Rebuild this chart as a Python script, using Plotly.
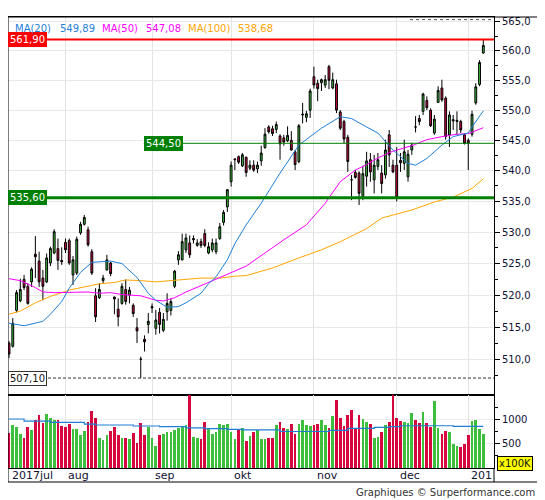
import math
import pandas as pd
import plotly.graph_objects as go

# trading days shown (Euronext, jul 2017 - jan 2018)
days = pd.bdate_range("2017-07-11", "2018-01-08")
days = days.drop(pd.to_datetime(["2017-12-25", "2017-12-26", "2018-01-01"]))
dates = [d.strftime("%Y-%m-%d") for d in days]

opens = [512.5, 512.0, 517.6, 519.1, 522.5, 521.4, 522.1, 526.5, 525.4, 522.7,
         522.1, 525.1, 526.7, 527.4, 525.5, 528.4, 528.7, 523.2, 523.5, 529.9,
         531.3, 530.4, 526.9, 519.9, 519.6, 522.3, 524.0, 525.1, 519.7, 517.8,
         518.7, 520.9, 520.0, 518.4, 514.9, 510.0, 513.1, 515.4, 518.0, 514.8,
         517.3, 514.5, 517.4, 517.6, 521.4, 525.6, 525.6, 527.2, 528.3, 528.8,
         527.9, 528.5, 529.8, 526.7, 527.2, 526.9, 529.0, 531.6, 534.1, 538.2,
         541.8, 542.3, 540.8, 542.2, 540.4, 540.9, 540.3, 541.6, 543.8, 547.2,
         546.9, 546.8, 545.7, 545.4, 544.9, 545.0, 543.1, 541.5, 549.2, 548.8,
         550.0, 555.6, 554.5, 554.6, 554.2, 557.3, 553.7, 554.4, 549.7, 548.1,
         545.5, 538.5, 539.7, 539.6, 535.8, 539.1, 541.8, 538.5, 540.7, 539.6,
         539.3, 545.9, 540.9, 540.9, 541.7, 541.2, 539.0, 543.4, 547.2, 548.6,
         549.8, 551.6, 550.0, 546.2, 551.3, 553.7, 552.0, 545.9, 548.2, 548.1,
         548.1, 545.9, 545.0, 546.0, 551.2, 554.3, 559.6]
highs = [512.8, 516.4, 520.8, 522.6, 523.2, 521.9, 524.4, 529.4, 526.9, 524.0,
         526.6, 527.7, 530.5, 529.0, 527.6, 529.0, 529.0, 526.2, 529.3, 531.7,
         532.8, 530.9, 527.3, 521.1, 521.9, 523.2, 526.4, 525.3, 519.8, 519.5,
         521.9, 522.5, 521.3, 518.7, 516.4, 510.4, 513.7, 517.2, 518.7, 517.7,
         518.0, 517.2, 520.3, 519.5, 524.0, 527.0, 529.8, 529.8, 529.5, 529.5,
         528.9, 529.0, 530.5, 528.4, 529.0, 529.0, 531.5, 533.6, 537.0, 541.5,
         542.0, 542.5, 542.9, 542.3, 541.7, 541.7, 541.5, 544.1, 547.0, 547.5,
         547.4, 548.1, 546.0, 545.9, 547.3, 546.5, 543.4, 547.7, 551.2, 549.9,
         553.6, 557.3, 555.1, 555.3, 555.9, 557.6, 556.3, 555.1, 550.0, 548.4,
         545.9, 539.3, 540.1, 539.9, 540.8, 543.1, 542.9, 542.6, 542.9, 540.9,
         545.1, 546.7, 541.8, 543.9, 542.9, 545.1, 543.4, 544.6, 549.0, 549.2,
         552.9, 552.3, 550.3, 549.2, 554.0, 555.1, 552.3, 549.8, 549.2, 549.8,
         548.4, 546.2, 545.3, 549.9, 554.5, 558.4, 561.9]
lows = [510.2, 511.8, 517.3, 518.9, 520.8, 518.5, 521.3, 522.7, 521.3, 519.2,
        521.9, 524.6, 526.5, 524.0, 524.8, 526.7, 524.8, 521.6, 523.2, 529.6,
        531.1, 527.7, 523.2, 515.8, 519.4, 521.9, 523.9, 523.0, 517.0, 515.1,
        518.5, 518.5, 518.7, 516.6, 512.5, 507.1, 511.2, 514.0, 517.2, 513.8,
        514.0, 514.2, 516.0, 516.8, 521.1, 524.8, 525.5, 526.7, 525.9, 528.2,
        527.7, 527.5, 527.6, 526.5, 526.8, 526.5, 528.8, 531.1, 533.3, 537.4,
        540.1, 541.1, 540.6, 539.0, 540.1, 539.8, 539.6, 540.8, 543.6, 546.1,
        545.7, 546.2, 541.8, 544.1, 544.7, 543.3, 540.1, 541.2, 547.8, 548.0,
        548.7, 553.6, 551.5, 553.2, 553.7, 553.5, 553.5, 549.5, 546.7, 544.5,
        539.8, 535.2, 538.7, 534.4, 535.2, 537.4, 538.2, 536.3, 540.1, 536.3,
        538.7, 540.6, 539.6, 535.0, 539.8, 540.1, 538.2, 542.6, 546.3, 547.5,
        549.2, 550.0, 547.2, 545.9, 551.2, 551.4, 545.1, 543.9, 546.7, 545.9,
        546.2, 544.3, 540.1, 545.6, 550.9, 554.0, 559.5]
closes = [510.8, 515.6, 520.4, 520.9, 521.2, 518.7, 524.1, 526.1, 522.1, 521.4,
          525.9, 527.4, 530.1, 525.5, 525.3, 527.2, 525.1, 525.6, 528.9, 531.3,
          532.4, 528.0, 523.5, 516.6, 520.9, 522.7, 525.6, 523.4, 519.4, 516.6,
          521.4, 519.0, 520.8, 517.1, 514.4, 510.0, 512.7, 515.9, 518.2, 516.1,
          515.4, 516.2, 518.7, 519.0, 523.8, 526.4, 528.5, 529.1, 526.4, 529.0,
          528.3, 527.9, 527.9, 527.7, 528.3, 528.3, 530.9, 533.2, 536.9, 540.9,
          541.9, 541.4, 542.6, 539.7, 540.9, 540.1, 540.9, 542.9, 546.0, 546.4,
          546.1, 547.6, 544.4, 544.7, 545.8, 543.4, 541.0, 547.4, 549.3, 549.4,
          553.2, 554.2, 553.6, 555.1, 555.1, 555.0, 555.1, 550.0, 547.0, 545.2,
          541.5, 538.5, 538.9, 536.3, 539.5, 541.6, 539.8, 540.9, 541.8, 537.9,
          543.4, 542.6, 539.8, 535.6, 541.3, 543.1, 542.7, 544.2, 547.2, 548.1,
          552.7, 550.4, 547.4, 548.5, 553.3, 551.7, 545.6, 549.2, 548.4, 548.3,
          546.7, 544.5, 544.5, 549.3, 553.9, 558.0, 560.9]
# volume in units of 100K
volumes = [725, 890, 855, 700, 635, 850, 785, 1005, 1105, 940,
           1120, 1035, 995, 995, 880, 850, 925, 810, 810, 690,
           765, 955, 1185, 1040, 620, 580, 685, 775, 850, 685,
           620, 620, 595, 725, 520, 930, 680, 860, 630, 460,
           680, 715, 755, 740, 790, 825, 865, 900, 1650, 640,
           620, 605, 950, 810, 715, 740, 920, 900, 920, 740,
           605, 805, 840, 555, 665, 755, 790, 605, 605, 620,
           620, 900, 950, 825, 810, 910, 700, 910, 990, 900,
           880, 900, 910, 990, 900, 825, 1085, 1415, 1045, 865,
           1100, 1205, 825, 1100, 1030, 955, 910, 620, 640, 740,
           900, 950, 1600, 1045, 985, 965, 930, 1140, 1000, 930,
           1165, 930, 860, 1400, 825, 705, 765, 740, 495, 450,
           435, 495, 685, 980, 1000, 810, 705]

# moving averages (index into dates, value)
ma20_at = [0, 4, 9, 11, 14, 16, 19, 22, 27, 30, 34, 37, 39, 42, 45, 47, 51, 53, 55,
           58, 60, 63, 67, 72, 77, 83, 88, 91, 95, 98, 102, 106, 108, 111, 115,
           118, 122, 123, 126]
ma20 = [515.6, 515.2, 515.9, 517.0, 519.0, 521.1, 523.6, 525.2, 525.4, 525.0, 522.8,
        520.3, 519.2, 518.1, 518.2, 518.8, 520.3, 521.8, 522.9, 525.6, 528.2, 531.2,
        534.7, 539.6, 544.2, 547.0, 548.9, 548.6, 547.2, 546.2, 543.4, 541.2, 540.9,
        542.0, 544.2, 545.6, 546.2, 547.2, 549.89]
ma50_at = [0, 3, 7, 9, 12, 16, 21, 24, 27, 30, 35, 39, 41, 44, 47, 51, 55, 58, 63,
           73, 79, 84, 88, 92, 95, 98, 102, 107, 111, 115, 119, 122, 126]
ma50 = [522.6, 522.3, 521.2, 520.5, 520.4, 520.4, 520.5, 520.3, 520.4, 520.1, 519.9,
        519.2, 519.1, 519.6, 520.5, 521.5, 522.5, 523.3, 524.6, 528.8, 531.2, 534.7,
        538.2, 540.1, 541.0, 542.1, 543.2, 544.1, 545.1, 545.6, 546.0, 546.1, 547.08]
ma100_at = [0, 3, 7, 11, 16, 20, 24, 28, 31, 35, 39, 45, 51, 56, 60, 63, 70, 77, 83,
            88, 95, 99, 107, 113, 118, 123, 126]
ma100 = [517.0, 517.5, 518.8, 519.8, 520.8, 521.3, 521.8, 522.0, 522.4, 522.3, 522.1,
         522.4, 522.7, 522.7, 523.0, 523.1, 524.3, 525.9, 527.2, 528.5, 530.6, 532.3,
         533.6, 534.9, 535.7, 537.1, 538.68]
vol_ma_at = [0, 4, 11, 20, 23, 33, 40, 47, 52, 58, 62, 72, 85, 90, 97, 101, 104, 118, 126]
vol_ma = [1020, 975, 950, 915, 895, 875, 860, 835, 820, 805, 795, 760, 785, 825, 845,
          863, 880, 866, 866]

level_high = 561.90
level_mid = 544.50
level_support = 535.60
level_low = 507.10

month_at = [0, 15, 38, 59, 81, 103, 122]
month_labels = ["2017jul", "aug", "sep", "okt", "nov", "dec", "201"]
price_ticks = [510, 515, 520, 525, 530, 535, 540, 545, 550, 555, 560, 565]

GREEN = "#3dbf3d"
RED = "#d6073f"
BLUE = "#1f7fd6"
MAGENTA = "#ff00ff"
ORANGE = "#ffa500"
FONT = "DejaVu Sans"

# the page body adds an 8px offset, so the figure is sized to the visible area
PAGE = 8


def px_x(px):
    return (px - PAGE) / 486


def px_y(py):
    return (468 - py) / 451


def comma(v, n=2):
    return f"{v:.{n}f}".replace(".", ",")


vol_colors = [GREEN if c > o else RED for o, c in zip(opens, closes)]

fig = go.Figure()

fig.add_trace(go.Candlestick(
    x=dates, open=opens, high=highs, low=lows, close=closes,
    increasing=dict(fillcolor=GREEN, line=dict(color="black", width=1)),
    decreasing=dict(fillcolor=RED, line=dict(color="black", width=1)),
    whiskerwidth=0, hoverinfo="skip", showlegend=False,
    xaxis="x", yaxis="y"
))
for at, vals, color in [(ma100_at, ma100, ORANGE), (ma50_at, ma50, MAGENTA), (ma20_at, ma20, BLUE)]:
    fig.add_trace(go.Scatter(
        x=[dates[i] for i in at], y=vals, mode="lines",
        line=dict(color=color, width=1), hoverinfo="skip", showlegend=False,
        xaxis="x", yaxis="y"
    ))

fig.add_trace(go.Bar(
    x=dates, y=volumes, marker_color=vol_colors, marker_line_width=0,
    width=0.72, hoverinfo="skip", showlegend=False, xaxis="x2", yaxis="y2"
))
fig.add_trace(go.Scatter(
    x=[dates[i] for i in vol_ma_at], y=vol_ma, mode="lines",
    line=dict(color=BLUE, width=1.2, shape="hv"), hoverinfo="skip", showlegend=False,
    xaxis="x2", yaxis="y2"
))

x_range = [-0.27, 128.84]
split = px_y(395)
axis_common = dict(showline=True, mirror=True, linecolor="black", linewidth=1)

fig.update_layout(
    width=537, height=492, autosize=False,
    margin=dict(l=0, r=51, t=9, b=32, pad=0),
    paper_bgcolor="white", plot_bgcolor="white",
    separators=", ",
    font=dict(family=FONT, size=10, color="#111111"),
    xaxis=dict(type="category", domain=[0, 1], anchor="y", range=x_range,
               tickvals=[dates[i] for i in month_at[1:]], showticklabels=False, ticks="",
               showgrid=True, gridcolor="#e4e4e4", rangeslider=dict(visible=False),
               **axis_common),
    xaxis2=dict(type="category", domain=[0, 1], anchor="y2", range=x_range, matches="x",
                tickvals=[dates[i] for i in month_at[1:]], showticklabels=False, ticks="",
                showgrid=True, gridcolor="#e4e4e4", **axis_common),
    yaxis=dict(type="log", domain=[split, 1], side="right", anchor="x",
               range=[math.log10(504.5), math.log10(565.75)],
               tickvals=price_ticks, tickformat=".1f", ticks="outside", ticklen=5,
               tickcolor="black", showgrid=True, gridcolor="#e8e8e8",
               tickfont=dict(size=10, color="#111133"),
               minor=dict(tickvals=[p + 2.5 for p in price_ticks[:-1]] + [507.5],
                          ticks="outside", ticklen=3, tickcolor="black", showgrid=False),
               **axis_common),
    yaxis2=dict(domain=[0, split], side="right", anchor="x2", range=[0, 1520],
                tickvals=[500, 1000], tickformat="d", ticks="outside", ticklen=5,
                tickcolor="black", showgrid=True, gridcolor="#ececec",
                tickfont=dict(size=10, color="#111133"),
                minor=dict(tickvals=[250, 750, 1250], ticks="outside", ticklen=3,
                           tickcolor="black", showgrid=False),
                **axis_common),
    bargap=0,
)

shapes = [
    dict(type="line", xref="paper", yref="y", x0=0, x1=1, y0=level_high, y1=level_high,
         line=dict(color="#ff0000", width=2)),
    dict(type="line", xref="x", yref="y", x0=35.8, x1=x_range[1], y0=level_mid, y1=level_mid,
         line=dict(color="#008000", width=1)),
    dict(type="line", xref="paper", yref="y", x0=0, x1=1, y0=level_support, y1=level_support,
         line=dict(color="#008000", width=3)),
    dict(type="line", xref="paper", yref="y", x0=0, x1=1, y0=level_low, y1=level_low,
         line=dict(color="#333333", width=1, dash="3px,2px")),
    dict(type="line", xref="paper", yref="y", x0=px_x(410), x1=1, y0=565.3, y1=565.3,
         line=dict(color="#555555", width=1, dash="dot")),
    # outer frame incl. label row and right axis area
    dict(type="rect", xref="paper", yref="paper", x0=0, x1=px_x(538), y0=px_y(482), y1=1,
         line=dict(color="black", width=1)),
    dict(type="line", xref="paper", yref="paper", x0=1, x1=1, y0=px_y(482), y1=0,
         line=dict(color="black", width=1)),
]
fig.update_layout(shapes=shapes)

ann = []
for lvl, bg, fg, border in [(level_high, "#ff0000", "white", "#ff0000"),
                            (level_support, "#008000", "white", "#008000"),
                            (level_low, "white", "#111111", "#333333")]:
    ann.append(dict(xref="paper", yref="y", x=0, y=math.log10(lvl), xanchor="left",
                    yanchor="middle", text=comma(lvl), showarrow=False, bgcolor=bg,
                    bordercolor=border, borderwidth=1, borderpad=1,
                    font=dict(family=FONT, size=10, color=fg)))
ann.append(dict(xref="x", yref="y", x=35.8, y=math.log10(level_mid), xanchor="left",
                yanchor="middle", text=comma(level_mid), showarrow=False, bgcolor="#008000",
                bordercolor="#008000", borderwidth=1, borderpad=1,
                font=dict(family=FONT, size=10, color="white")))

legend_items = [("MA(20)", 13, BLUE), (comma(ma20[-1]), 58, BLUE),
                ("MA(50)", 100, MAGENTA), (comma(ma50[-1]), 144, MAGENTA),
                ("MA(100)", 186, ORANGE), (comma(ma100[-1]), 236, ORANGE)]
for txt, px, col in legend_items:
    ann.append(dict(xref="paper", yref="paper", x=px_x(px), y=px_y(28), xanchor="left",
                    yanchor="middle", text=txt, showarrow=False,
                    font=dict(family=FONT, size=10, color=col)))

for i, lab in zip(month_at, month_labels):
    ann.append(dict(xref="x2", yref="paper", x=i, y=px_y(475.5), xanchor="left",
                    yanchor="middle", text=lab, showarrow=False, xshift=1,
                    font=dict(family=FONT, size=11, color="#111133")))

ann.append(dict(xref="paper", yref="paper", x=px_x(497), y=px_y(463.5), xanchor="left",
                yanchor="middle", text="x100K", showarrow=False, bgcolor="#ffff00",
                bordercolor="black", borderwidth=1, borderpad=1,
                font=dict(family=FONT, size=10, color="#111111")))
ann.append(dict(xref="paper", yref="paper", x=px_x(537), y=px_y(492), xanchor="right",
                yanchor="middle", text="Graphiques © Surperformance.com", showarrow=False,
                font=dict(family=FONT, size=10, color="#333333")))
fig.update_layout(annotations=ann)

fig.write_html("out.html")
